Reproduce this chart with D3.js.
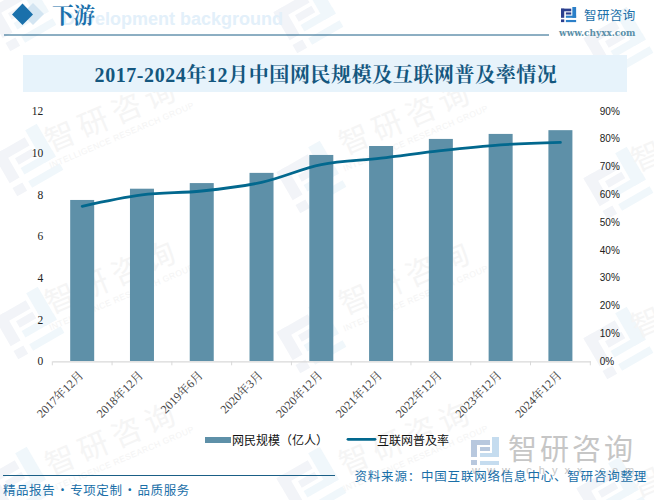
<!DOCTYPE html>
<html><head><meta charset="utf-8">
<script src="https://cdnjs.cloudflare.com/ajax/libs/d3/7.8.5/d3.min.js"></script>
<style>html,body{margin:0;padding:0;background:#fff}svg{display:block}</style></head>
<body><svg id="c" width="654" height="500"></svg>
<script>
const categories=["2017年12月","2018年12月","2019年6月","2020年3月","2020年12月","2021年12月","2022年12月","2023年12月","2024年12月"];
const users=[7.73,8.27,8.54,9.03,9.89,10.32,10.66,10.9,11.08];
const rate=[0.557,0.598,0.612,0.643,0.707,0.73,0.757,0.778,0.787];
const leftTicks=[0,2,4,6,8,10,12];
const rightTicks=[0,.1,.2,.3,.4,.5,.6,.7,.8,.9];
const title="2017-2024年12月中国网民规模及互联网普及率情况";
const serif="'Liberation Serif','Noto Serif CJK SC','Noto Sans CJK SC',serif";
const sans="'Liberation Sans','Noto Sans CJK SC',sans-serif";
const cjk="'Noto Sans CJK SC',sans-serif";
const svg=d3.select("#c");

const wmPos=[[113,115],[113,277],[113,439],[407,118],[407,278],[407,438]];
const wmEdge=[[647,157],[647,323],[647,483]];
const logoPos=[[20,15],[27,160],[28,323],[17,483],[307,17],[310,177],[310,337],[310,483],[617,43],[617,183],[617,343],[610,493]];
const logoLeft=[[0,3,19,5],[0,3,6,17],[0,23,6,5],[9,10,10,4]];
const logoRight=[[21,0,7,20],[9,16,19,4],[9,24,19,4]];
function logo(g,a,b){
  logoLeft.forEach(r=>g.append("rect").attr("x",r[0]).attr("y",r[1]).attr("width",r[2]).attr("height",r[3]).attr("fill",a));
  logoRight.forEach(r=>g.append("rect").attr("x",r[0]).attr("y",r[1]).attr("width",r[2]).attr("height",r[3]).attr("fill",b));
}
logoPos.forEach(p=>{logo(svg.append("g").attr("transform",`translate(${p[0]},${p[1]}) rotate(-30) scale(1.9) translate(-14,-14)`),"#f2f4f8","#f0f7fb");});
wmPos.forEach(p=>{
  const g=svg.append("g").attr("transform",`translate(${p[0]},${p[1]}) rotate(-23)`);
  g.append("text").attr("text-anchor","middle").attr("y",10).attr("font-family",cjk).attr("font-size",30).attr("letter-spacing",6).attr("fill","#f5f5f5").text("智研咨询");
  g.append("text").attr("text-anchor","middle").attr("y",25).attr("font-family",sans).attr("font-size",8.5).attr("letter-spacing",.45).attr("fill","#f4f4f4").text("INTELLIGENCE RESEARCH GROUP");
});
wmEdge.forEach(p=>{
  svg.append("text").attr("transform",`translate(${p[0]},${p[1]}) rotate(-23)`).attr("text-anchor","middle").attr("y",10).attr("font-family",cjk).attr("font-size",30).attr("fill","#f5f5f5").text("智");
});

// header
svg.append("text").attr("x",62).attr("y",25).attr("font-family",sans).attr("font-weight",700).attr("font-size",18).attr("fill","#e3f0fa").text("Development background");
svg.append("path").attr("d","M33 3L44 14L33 25L22 14Z").attr("fill","#d3e5f2");
svg.append("path").attr("d","M22.5 3.5L33 14.5L22.5 25L12 14.5Z").attr("fill","#1a70ab");
svg.append("text").attr("x",52).attr("y",23).attr("font-family","'Noto Serif CJK SC','Noto Sans CJK SC',serif").attr("font-weight",700).attr("font-size",21.5).attr("fill","#1a70ab").text("下游");
svg.append("line").attr("x1",4).attr("x2",549).attr("y1",35).attr("y2",35).attr("stroke","#1a5f86");

// brand
logo(svg.append("g").attr("transform","translate(561,7) scale(.54)"),"#2b3f8f","#2b7fc8");
svg.append("text").attr("x",584).attr("y",19.5).attr("font-family",cjk).attr("font-size",12.5).attr("letter-spacing",.4).attr("fill","#1a6fa8").text("智研咨询");
svg.append("text").attr("x",559).attr("y",36).attr("font-family","'DejaVu Serif',serif").attr("font-weight",700).attr("font-size",8.9).attr("fill","#5a8fa8").text("www.chyxx.com");

// title band
svg.append("rect").attr("x",23).attr("y",55).attr("width",604).attr("height",37).attr("fill","#e7f3fb");
svg.append("text").attr("x",326).attr("y",82).attr("text-anchor","middle").attr("font-family",serif).attr("font-weight",700).attr("font-size",20).attr("letter-spacing",.58).attr("fill","#14577f").text(title);

// scales
const x=d3.scaleBand().domain(categories).range([52.3,590.3]);
const yL=d3.scaleLinear().domain([0,12]).range([361,111]);
const yR=d3.scaleLinear().domain([0,.9]).range([361,111]);

// axes
const ax=svg.append("g").attr("transform","translate(0,361.3)").call(d3.axisBottom(x).tickSize(0).tickFormat(""));
ax.select(".domain").attr("stroke","#d9d9d9").attr("stroke-width",1.2);
ax.selectAll(".tick").remove();
d3.range(categories.length+1).forEach(i=>{
  const px=x.range()[0]+i*x.step();
  ax.append("line").attr("x1",px).attr("x2",px).attr("y1",0).attr("y2",4).attr("stroke","#d9d9d9");
});
categories.forEach(c=>{
  svg.append("text").attr("transform",`translate(${x(c)+x.bandwidth()/2-1},${373}) rotate(-45)`)
   .attr("text-anchor","end").attr("font-family",serif).attr("font-size",12).attr("fill","#444").attr("dy","0.35em").text(c);
});
const aL=svg.append("g").attr("transform","translate(52.3,0)").call(d3.axisLeft(yL).tickValues(leftTicks).tickSize(0).tickPadding(9));
aL.select(".domain").remove();
aL.selectAll("text").attr("font-family",serif).attr("font-size",11.5).attr("fill","#222");
const aR=svg.append("g").attr("transform","translate(590.3,0)").call(d3.axisRight(yR).tickValues(rightTicks).tickSize(0).tickPadding(9.5).tickFormat(d3.format(".0%")));
aR.select(".domain").remove();
aR.selectAll("text").attr("font-family",sans).attr("font-size",10).attr("fill","#222");

// marks
svg.append("g").selectAll("rect").data(users).join("rect")
 .attr("x",(d,i)=>x(categories[i])+x.bandwidth()/2-12).attr("width",24)
 .attr("y",d=>yL(d)).attr("height",d=>361-yL(d)).attr("fill","#5e90a8");
const line=d3.line().x((d,i)=>x(categories[i])+x.bandwidth()/2).y(d=>yR(d)).curve(d3.curveCatmullRom.alpha(.5));
svg.append("path").attr("d",line(rate)).attr("fill","none").attr("stroke","#02688e").attr("stroke-width",2.8).attr("stroke-linecap","round");

// legend
svg.append("rect").attr("x",205).attr("y",437).attr("width",26).attr("height",6).attr("fill","#5e90a8");
svg.append("text").attr("x",232).attr("y",444.5).attr("font-family",cjk).attr("font-size",12).attr("fill","#111").text("网民规模（亿人）");
svg.append("line").attr("x1",348).attr("x2",375).attr("y1",439.3).attr("y2",439.3).attr("stroke","#02688e").attr("stroke-width",2.8).attr("stroke-linecap","round");
svg.append("text").attr("x",377).attr("y",444.5).attr("font-family",cjk).attr("font-size",12).attr("fill","#111").text("互联网普及率");

// footer
logo(svg.append("g").attr("transform","translate(471,437)"),"#b8c8de","#c5dcef");
svg.append("text").attr("x",508).attr("y",460).attr("font-family",cjk).attr("font-size",29).attr("letter-spacing",3).attr("fill","#c6c6c6").text("智研咨询");
svg.append("text").attr("x",472).attr("y",474).attr("font-family",sans).attr("font-size",11).attr("letter-spacing",7).attr("fill","#c6c6c6").text("www.chyxx.com");
svg.append("line").attr("x1",3).attr("x2",335).attr("y1",475.5).attr("y2",475.5).attr("stroke","#1a5f86");
const foot=svg.append("text").attr("x",3).attr("y",495).attr("font-family",cjk).attr("font-size",12.5).attr("letter-spacing",.55).attr("fill","#1a6fa8");
foot.append("tspan").text("精品报告");
foot.append("tspan").attr("dx",1).text("·");
foot.append("tspan").attr("dx",1).text("专项定制");
foot.append("tspan").attr("dx",1).text("·");
foot.append("tspan").attr("dx",1).text("品质服务");
svg.append("text").attr("x",354.5).attr("y",481).attr("font-family",cjk).attr("font-size",12.5).attr("letter-spacing",.8).attr("fill","#1a6fa8").text("资料来源：中国互联网络信息中心、智研咨询整理");
</script></body></html>
